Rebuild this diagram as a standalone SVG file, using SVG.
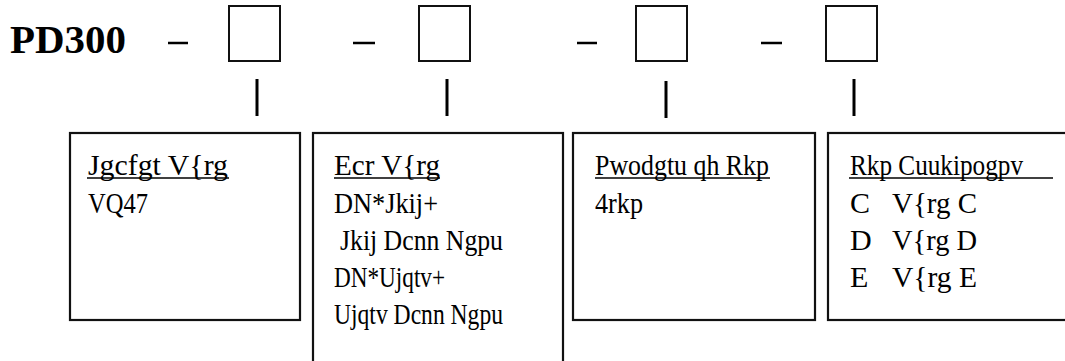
<svg xmlns="http://www.w3.org/2000/svg" width="1065" height="361" viewBox="0 0 1065 361">
<style>
.t{font-family:"Liberation Serif","Times New Roman","DejaVu Serif",serif;font-size:30px;fill:#000}
.title{font-family:"Liberation Serif","Times New Roman","DejaVu Serif",serif;font-size:40px;font-weight:bold;fill:#000}
.sq{fill:#fff;stroke:#111;stroke-width:2}
.box{fill:#fff;stroke:#111;stroke-width:2.2}
.ul{stroke:#000;stroke-width:1.5}
.dash{stroke:#000;stroke-width:2.5}
.conn{stroke:#000;stroke-width:3}
</style>
<rect width="1065" height="361" fill="#fff"/>
<g id="title">
<text class="title" x="10" y="53" textLength="116" lengthAdjust="spacingAndGlyphs">PD300</text>
</g>
<g id="code">
<line class="dash" x1="168" y1="43" x2="188" y2="43"/>
<line class="dash" x1="353" y1="43" x2="375" y2="43"/>
<line class="dash" x1="577" y1="43" x2="597" y2="43"/>
<line class="dash" x1="761" y1="43" x2="782" y2="43"/>
</g>
<g id="slot1"><rect class="sq" x="229" y="6" width="51" height="55"/></g>
<g id="slot2"><rect class="sq" x="419" y="6" width="51" height="55"/></g>
<g id="slot3"><rect class="sq" x="636" y="6" width="51" height="55"/></g>
<g id="slot4"><rect class="sq" x="826" y="6" width="51" height="55"/></g>
<g id="connectors">
<line class="conn" x1="257" y1="79" x2="257" y2="116"/>
<line class="conn" x1="447" y1="79" x2="447" y2="116"/>
<line class="conn" x1="666" y1="81" x2="666" y2="118"/>
<line class="conn" x1="854" y1="79" x2="854" y2="116"/>
</g>
<g id="box1">
<rect class="box" x="70" y="133" width="230" height="187"/>
<text class="t" x="88" y="175" textLength="140" lengthAdjust="spacingAndGlyphs">Jgcfgt V{rg</text>
<line class="ul" x1="87" y1="178" x2="229" y2="178"/>
<text class="t" x="88" y="213" textLength="60" lengthAdjust="spacingAndGlyphs">VQ47</text>
</g>
<g id="box2">
<rect class="box" x="313" y="133" width="250" height="240"/>
<text class="t" x="334" y="175" textLength="106" lengthAdjust="spacingAndGlyphs">Ecr V{rg</text>
<line class="ul" x1="334" y1="178" x2="440" y2="178"/>
<text class="t" x="334" y="213" textLength="104" lengthAdjust="spacingAndGlyphs">DN*Jkij+</text>
<text class="t" x="340" y="250" textLength="163" lengthAdjust="spacingAndGlyphs">Jkij Dcnn Ngpu</text>
<text class="t" x="334" y="287" textLength="111" lengthAdjust="spacingAndGlyphs">DN*Ujqtv+</text>
<text class="t" x="334" y="324" textLength="169" lengthAdjust="spacingAndGlyphs">Ujqtv Dcnn Ngpu</text>
</g>
<g id="box3">
<rect class="box" x="573" y="133" width="242" height="187"/>
<text class="t" x="595" y="175" textLength="174" lengthAdjust="spacingAndGlyphs">Pwodgtu qh Rkp</text>
<line class="ul" x1="595" y1="178" x2="770" y2="178"/>
<text class="t" x="595" y="213" textLength="48" lengthAdjust="spacingAndGlyphs">4rkp</text>
</g>
<g id="box4">
<rect class="box" x="828" y="133" width="250" height="187"/>
<text class="t" x="850" y="175" textLength="173" lengthAdjust="spacingAndGlyphs">Rkp Cuukipogpv</text>
<line class="ul" x1="849" y1="178" x2="1053" y2="178"/>
<text class="t" x="850" y="213">C</text>
<text class="t" x="892" y="213" textLength="85" lengthAdjust="spacingAndGlyphs">V{rg C</text>
<text class="t" x="850" y="250">D</text>
<text class="t" x="892" y="250" textLength="85" lengthAdjust="spacingAndGlyphs">V{rg D</text>
<text class="t" x="850" y="287">E</text>
<text class="t" x="892" y="287" textLength="85" lengthAdjust="spacingAndGlyphs">V{rg E</text>
</g>
</svg>
